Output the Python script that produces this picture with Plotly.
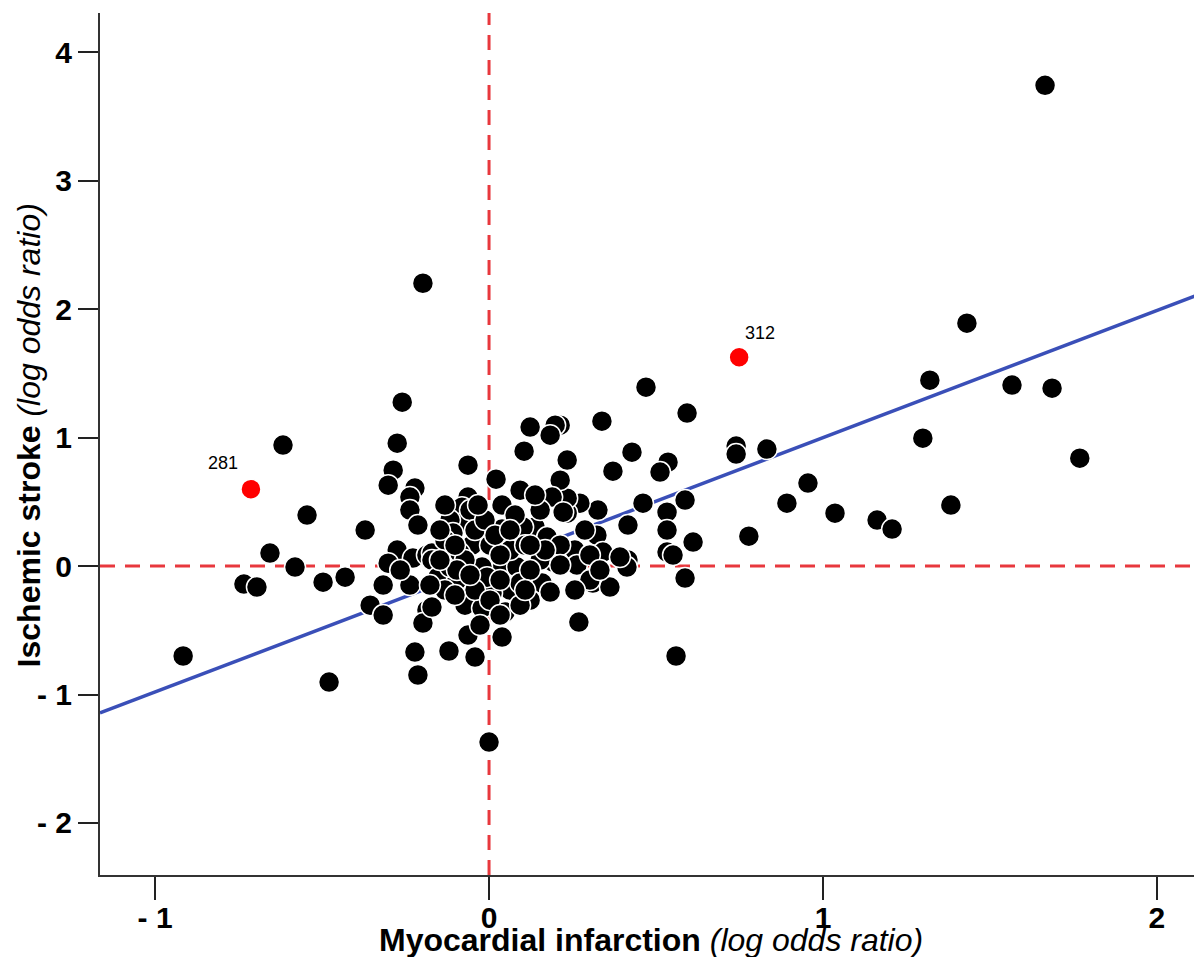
import plotly.graph_objects as go

# Black points (myocardial infarction log OR, ischemic stroke log OR)
mi_logor = [
    1.665, -0.198, 1.431, 1.320, 1.566, 1.686, 1.769, 1.299, 1.383, 1.162, 1.207, 1.036,
    0.955, 0.892, 0.832, 0.778, 0.740, 0.740, 0.470, 0.593, 0.338, 0.428, 0.371, 0.536,
    0.512, 0.461, 0.587, 0.533, 0.533, 0.611, 0.533, 0.551, 0.587, 0.560, 0.269, 0.416,
    0.416, 0.413, 0.326, 0.323, 0.341, 0.257, 0.263, 0.311, 0.362, 0.272, 0.234, 0.234,
    0.213, 0.234, 0.213, 0.123, 0.198, 0.183, 0.105,
    -0.916, -0.734, -0.695, -0.656, -0.581, -0.617, -0.545, -0.497, -0.431, -0.371, -0.356,
    -0.317, -0.479, -0.260, -0.275, -0.287, -0.302, -0.222, -0.237, -0.237, -0.213, -0.275,
    -0.228, -0.186, -0.302, -0.317, -0.237, -0.186, -0.198, -0.222, -0.213, -0.171, -0.120,
    -0.042, -0.063, 0.039, 0.000,
    -0.063, 0.021, 0.093, 0.039, -0.063, -0.081, -0.078, 0.039, 0.138, -0.171, -0.051,
    0.189, 0.222, -0.117, -0.108, -0.171, -0.078, 0.039, 0.084, 0.192, -0.153, -0.096,
    0.063, 0.009, 0.159, 0.183, -0.072, -0.021, 0.048, -0.117, -0.087, -0.021, -0.006,
    0.093, 0.102, 0.174, 0.302, 0.392, -0.057, -0.072, -0.096,
    -0.132, -0.042, 0.003, 0.063, 0.108, 0.153, -0.012, 0.078, 0.123, -0.132, -0.042,
    0.033, 0.123, -0.102, 0.093, 0.213, 0.153, 0.287, 0.257, 0.003,
    -0.147, -0.102, 0.018, 0.063, 0.168, 0.123, 0.213, -0.057, 0.033, 0.108,
    -0.027, 0.033, -0.147, -0.033, 0.138, 0.302, 0.332, -0.132, -0.177, -0.266,
]
is_logor = [
    3.743, 2.202, 1.891, 1.447, 1.409, 1.385, 0.840, 0.996, 0.475, 0.358, 0.288, 0.412,
    0.646, 0.490, 0.911, 0.233, 0.934, 0.872, 1.393, 1.191, 1.128, 0.887, 0.739, 0.809,
    0.732, 0.490, 0.514, 0.420, 0.280, 0.187, 0.109, 0.086, -0.093, -0.700, -0.436, 0.319,
    0.047, -0.008, 0.436, 0.241, 0.109, 0.125, 0.008, -0.132, -0.163, 0.490, 0.412, 0.529,
    1.097, 0.825, 0.669, 1.082, 1.097, 1.019, 0.895,
    -0.700, -0.140, -0.163, 0.101, -0.008, 0.942, 0.397, -0.125, -0.086, 0.280, -0.304,
    -0.381, -0.903, 1.276, 0.957, 0.747, 0.630, 0.607, 0.537, 0.436, 0.319, 0.125,
    0.062, 0.086, 0.023, -0.148, -0.148, -0.342, -0.444, -0.669, -0.848, -0.319, -0.661,
    -0.708, -0.537, -0.553, -1.370,
    0.786, 0.677, 0.591, 0.475, 0.537, 0.459, 0.335, 0.288, 0.304, 0.101, 0.163,
    0.537, 0.420, 0.358, 0.257, 0.047, 0.023, -0.016, -0.008, 0.031, -0.086, -0.109,
    -0.187, -0.210, -0.132, -0.202, -0.304, -0.327, -0.358, -0.008, 0.101, -0.008, -0.086,
    -0.132, 0.304, 0.226, -0.109, 0.070, 0.436, 0.047, -0.031,
    0.202, 0.280, 0.163, 0.125, 0.163, 0.047, 0.358, 0.397, -0.031, -0.187, -0.187,
    0.086, -0.265, -0.226, -0.304, 0.163, 0.436, 0.280, -0.187, -0.265,
    0.047, 0.163, 0.241, 0.280, 0.125, 0.163, 0.008, -0.070, -0.109, -0.187,
    -0.459, -0.381, 0.280, 0.475, 0.553, 0.086, -0.031, 0.475, -0.148, -0.031,
]

# Highlighted points
hl_labels = ["281", "312"]
hl_mi = [-0.713, 0.749]
hl_is = [0.599, 1.626]

# Regression line
reg_intercept = 0.01
reg_slope = 0.99

x_range = [-1.165, 2.135]
y_range = [-2.405, 4.306]
x_tickvals = [-1, 0, 1, 2]
x_ticktext = ["- 1", "0", "1", "2"]
y_tickvals = [-2, -1, 0, 1, 2, 3, 4]
y_ticktext = ["- 2", "- 1", "0", "1", "2", "3", "4"]

FONT = "Arial, Liberation Sans, sans-serif"
RED = "#e8383d"
BLUE = "#3a4fb8"

fig = go.Figure()

# reference dashed lines
fig.add_trace(go.Scatter(x=[0, 0], y=y_range, mode="lines",
                         line=dict(color=RED, width=3, dash="15px,10px"),
                         hoverinfo="skip", showlegend=False))
fig.add_trace(go.Scatter(x=x_range, y=[0, 0], mode="lines",
                         line=dict(color=RED, width=3, dash="15px,10px"),
                         hoverinfo="skip", showlegend=False))
# regression line
fig.add_trace(go.Scatter(x=x_range,
                         y=[reg_intercept + reg_slope * v for v in x_range],
                         mode="lines", line=dict(color=BLUE, width=3.5),
                         hoverinfo="skip", showlegend=False))
# black points
fig.add_trace(go.Scatter(x=mi_logor, y=is_logor, mode="markers",
                         marker=dict(size=21, color="black",
                                     line=dict(color="white", width=1.5)),
                         showlegend=False))
# red points
fig.add_trace(go.Scatter(x=hl_mi, y=hl_is, mode="markers",
                         marker=dict(size=20, color="#ff0000",
                                     line=dict(color="white", width=1.5)),
                         showlegend=False))

fig.add_annotation(x=hl_mi[0], y=hl_is[0], text=hl_labels[0], showarrow=False,
                   xanchor="center", yanchor="bottom", xshift=-28, yshift=14,
                   font=dict(family=FONT, size=18, color="black"))
fig.add_annotation(x=hl_mi[1], y=hl_is[1], text=hl_labels[1], showarrow=False,
                   xanchor="center", yanchor="bottom", xshift=21, yshift=12,
                   font=dict(family=FONT, size=18, color="black"))

# axis titles
fig.add_annotation(xref="paper", yref="paper", x=0.5, y=0, yshift=-65,
                   xanchor="center", yanchor="middle", showarrow=False,
                   text="<b>Myocardial infarction</b> <i>(log odds ratio)</i>",
                   font=dict(family=FONT, size=32, color="black"))
fig.add_annotation(xref="paper", yref="paper", x=0, xshift=-71, y=0.51,
                   xanchor="center", yanchor="middle", showarrow=False,
                   textangle=-90,
                   text="<b>Ischemic stroke</b> <i>(log odds ratio)</i>",
                   font=dict(family=FONT, size=32, color="black"))

axis_common = dict(showgrid=False, zeroline=False, showline=True,
                   linecolor="#333333", linewidth=2, ticks="outside",
                   tickwidth=2, tickcolor="#222222",
                   tickfont=dict(family=FONT, size=30, color="black", weight="bold"))
fig.update_xaxes(range=x_range, tickvals=x_tickvals, ticktext=x_ticktext,
                 ticklen=23, ticklabelstandoff=-8, **axis_common)
fig.update_yaxes(range=y_range, tickvals=y_tickvals, ticktext=y_ticktext,
                 ticklen=20, ticklabelstandoff=0, **axis_common)

# page body has an 8px margin: size/margins compensate so the plot lands where the reference has it
fig.update_layout(width=1194, height=949, plot_bgcolor="white", paper_bgcolor="white",
                  margin=dict(l=92, r=0, t=5, b=82), showlegend=False,
                  font=dict(family=FONT))

fig.write_html("out.html")
